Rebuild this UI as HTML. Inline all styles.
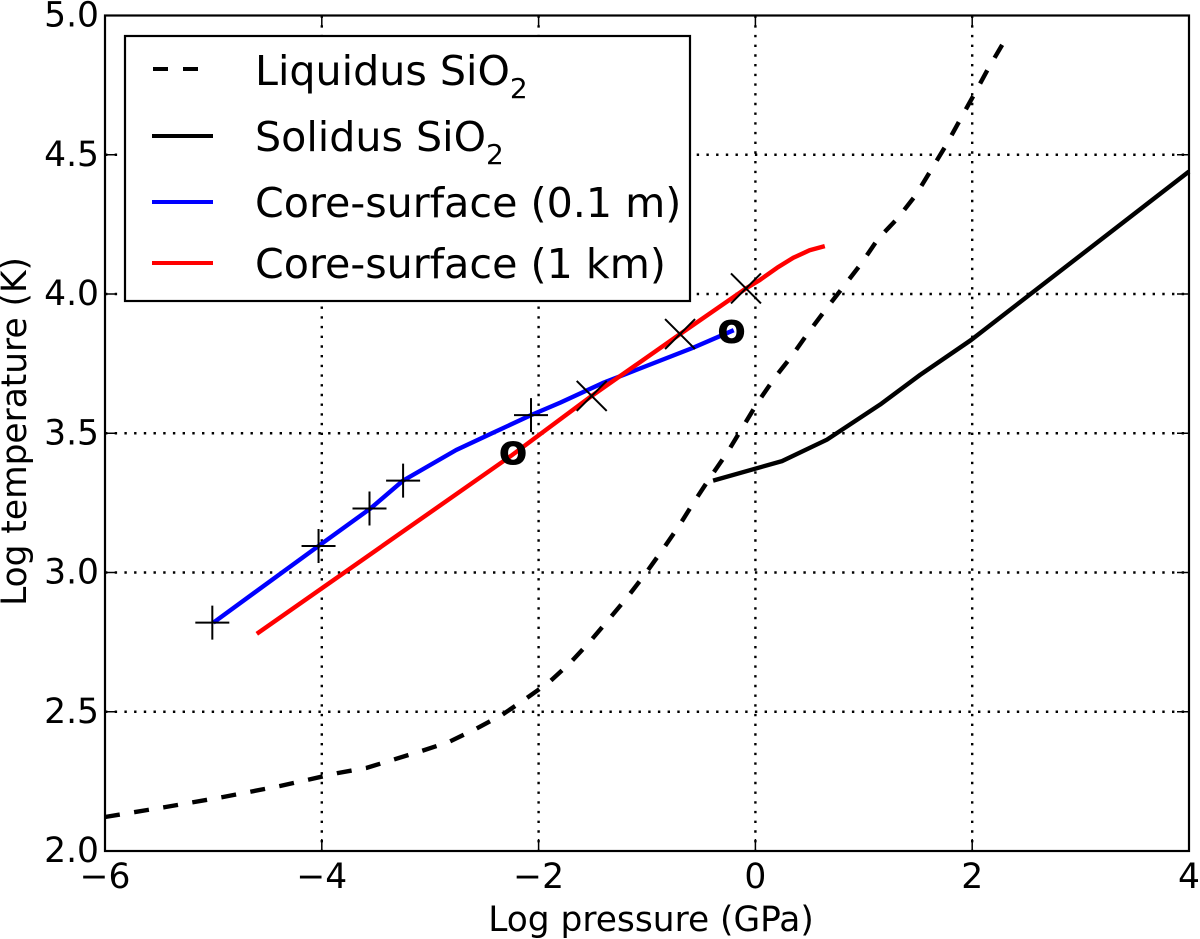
<!DOCTYPE html>
<html>
<head>
<meta charset="utf-8">
<title>Log temperature vs log pressure</title>
<style>
html,body{margin:0;padding:0;background:#fff;}
svg{display:block;}
text{font-family:"DejaVu Sans","Liberation Sans",sans-serif;fill:#000;}
</style>
</head>
<body>
<svg id="chart" width="1200" height="939" viewBox="0 0 1200 939" xmlns="http://www.w3.org/2000/svg">
<g id="grid"></g>
<g id="series"></g>
<g id="markers"></g>
<g id="axes"></g>
<g>
  <rect x="125" y="36" width="565" height="265" fill="#fff" stroke="#000" stroke-width="2.2"/>
  <line x1="153" x2="198" y1="69" y2="69" stroke="#000" stroke-width="4" stroke-dasharray="15 15"/>
  <line x1="152" x2="213" y1="136" y2="136" stroke="#000" stroke-width="4"/>
  <line x1="152" x2="213" y1="202" y2="202" stroke="#0000ff" stroke-width="4"/>
  <line x1="152" x2="213" y1="263" y2="263" stroke="#ff0000" stroke-width="4"/>
  <text x="255" y="85" font-size="41.2">Liquidus SiO<tspan font-size="28" dy="13">2</tspan></text>
  <text x="255" y="151" font-size="41.2">Solidus SiO<tspan font-size="28" dy="13">2</tspan></text>
  <text x="255" y="217" font-size="41.2">Core-surface (0.1 m)</text>
  <text x="255" y="278" font-size="41.2">Core-surface (1 km)</text>
</g>
<text x="651" y="931" font-size="34.4" text-anchor="middle">Log pressure (GPa)</text>
<text transform="translate(26,431.5) rotate(-90)" font-size="34.4" text-anchor="middle">Log temperature (K)</text>
<script>
const xTicks = [-6, -4, -2, 0, 2, 4];
const yTicks = [2.0, 2.5, 3.0, 3.5, 4.0, 4.5, 5.0];
const xTickLabels = ['\u22126', '\u22124', '\u22122', '0', '2', '4'];
const yTickLabels = ['2.0', '2.5', '3.0', '3.5', '4.0', '4.5', '5.0'];

const liquidusP = [-6, -5.44, -4.91, -4.39, -3.85, -3.59, -3.08, -2.83, -2.58, -2.34, -2.12, -1.90, -1.71, -1.53, -1.35, -1.18, -1.01, -0.86, -0.70, -0.58, -0.42, -0.26, -0.12, 0.02, 0.18, 0.34, 0.485, 0.66, 0.81, 0.98, 1.13, 1.315, 1.48, 1.62, 1.76, 1.887, 2.016, 2.146, 2.285];
const liquidusT = [2.122, 2.158, 2.194, 2.233, 2.28, 2.298, 2.359, 2.391, 2.438, 2.488, 2.546, 2.607, 2.675, 2.75, 2.833, 2.912, 2.998, 3.08, 3.17, 3.245, 3.34, 3.43, 3.52, 3.61, 3.70, 3.78, 3.86, 3.95, 4.025, 4.111, 4.197, 4.273, 4.355, 4.445, 4.535, 4.625, 4.715, 4.808, 4.90];
const solidusP = [-0.39, 0.245, 0.66, 1.15, 1.52, 1.99, 4];
const solidusT = [3.33, 3.40, 3.477, 3.603, 3.71, 3.835, 4.44];
const blueP = [-5.0, -4.03, -3.55, -3.25, -2.76, -2.43, -2.07, -1.8, -1.41, -0.58, -0.2];
const blueT = [2.82, 3.095, 3.23, 3.33, 3.44, 3.5, 3.565, 3.61, 3.68, 3.806, 3.87];
const redP = [-4.6, -2.25, -1.51, -0.695, -0.087, 0.04, 0.2, 0.35, 0.5, 0.64];
const redT = [2.78, 3.42, 3.634, 3.856, 4.02, 4.05, 4.094, 4.13, 4.157, 4.172];

const plusP = [-5.01, -4.03, -3.56, -3.25, -2.07];
const plusT = [2.82, 3.095, 3.23, 3.33, 3.565];
const crossP = [-1.51, -0.695, -0.087];
const crossT = [3.634, 3.856, 4.02];
const circleP = [-2.236, -0.22];
const circleT = [3.431, 3.867];
const circleGlyphs = ['o', 'o'];

const L = 105, R = 1189, T = 15.5, B = 851;
const xMin = -6, xMax = 4, yMin = 2, yMax = 5;
function sx(v) { return L + (v - xMin) / (xMax - xMin) * (R - L); }
function sy(v) { return B - (v - yMin) / (yMax - yMin) * (B - T); }

const NS = 'http://www.w3.org/2000/svg';
function make(tag, parentId, attrs) {
  const el = document.createElementNS(NS, tag);
  for (const k in attrs) el.setAttribute(k, attrs[k]);
  document.getElementById(parentId).appendChild(el);
  return el;
}
function pointsOf(xs, ys) {
  return xs.map(function (x, i) { return sx(x).toFixed(1) + ',' + sy(ys[i]).toFixed(1); }).join(' ');
}

xTicks.forEach(function (v, i) {
  if (i > 0 && i < xTicks.length - 1) {
    const g = make('line', 'grid', { x1: sx(v), x2: sx(v), y1: T, y2: B, stroke: '#000', 'stroke-width': 2.4, 'stroke-dasharray': '2.4 7.3' });
    
    
  }
  const t1 = make('line', 'axes', { x1: sx(v), x2: sx(v), y1: B, y2: B - 12, stroke: '#000', 'stroke-width': 1.5 });
  
  
  const t2 = make('line', 'axes', { x1: sx(v), x2: sx(v), y1: T, y2: T + 12, stroke: '#000', 'stroke-width': 1.5 });
  
  
  const lab = make('text', 'axes', { x: sx(v), y: 888, 'font-size': 34.5, 'text-anchor': 'middle' });
  lab.textContent = xTickLabels[i];
  
  
});

yTicks.forEach(function (v, i) {
  if (i > 0 && i < yTicks.length - 1) {
    const g = make('line', 'grid', { x1: L, x2: R, y1: sy(v), y2: sy(v), stroke: '#000', 'stroke-width': 2.4, 'stroke-dasharray': '2.4 7.3' });
    
    
  }
  const t1 = make('line', 'axes', { x1: L, x2: L + 12, y1: sy(v), y2: sy(v), stroke: '#000', 'stroke-width': 1.5 });
  
  
  const t2 = make('line', 'axes', { x1: R, x2: R - 12, y1: sy(v), y2: sy(v), stroke: '#000', 'stroke-width': 1.5 });
  
  
  const lab = make('text', 'axes', { x: 99, y: sy(v) + 11, 'font-size': 34.5, 'text-anchor': 'end' });
  lab.textContent = yTickLabels[i];
  
  
});

const frame = make('rect', 'axes', { x: L, y: T, width: R - L, height: B - T, fill: 'none', stroke: '#000', 'stroke-width': 2.2 });



const liquidusLine = make('polyline', 'series', { points: pointsOf(liquidusP, liquidusT), fill: 'none', stroke: '#000', 'stroke-width': 4.4, 'stroke-linejoin': 'round', 'stroke-dasharray': '15 14.5' });



const solidusLine = make('polyline', 'series', { points: pointsOf(solidusP, solidusT), fill: 'none', stroke: '#000', 'stroke-width': 4.4, 'stroke-linejoin': 'round' });



const blueLine = make('polyline', 'series', { points: pointsOf(blueP, blueT), fill: 'none', stroke: '#0000ff', 'stroke-width': 4.4, 'stroke-linejoin': 'round' });



const redLine = make('polyline', 'series', { points: pointsOf(redP, redT), fill: 'none', stroke: '#ff0000', 'stroke-width': 4.4, 'stroke-linejoin': 'round' });



const armPlus = 17, armCross = 15;
plusP.forEach(function (p, i) {
  const cx = sx(p), cy = sy(plusT[i]);
  const m = make('path', 'markers', { d: 'M' + (cx - armPlus) + ' ' + cy + 'H' + (cx + armPlus) + 'M' + cx + ' ' + (cy - armPlus) + 'V' + (cy + armPlus), stroke: '#000', 'stroke-width': 2, fill: 'none' });
  
  
});
crossP.forEach(function (p, i) {
  const cx = sx(p), cy = sy(crossT[i]);
  const m = make('path', 'markers', { d: 'M' + (cx - armCross) + ' ' + (cy - armCross) + 'L' + (cx + armCross) + ' ' + (cy + armCross) + 'M' + (cx - armCross) + ' ' + (cy + armCross) + 'L' + (cx + armCross) + ' ' + (cy - armCross), stroke: '#000', 'stroke-width': 2, fill: 'none' });
  
  
});
circleP.forEach(function (p, i) {
  const m = make('text', 'markers', { x: sx(p), y: sy(circleT[i]) + 12, 'font-size': 42, 'font-weight': 'bold', 'text-anchor': 'middle' });
  m.textContent = circleGlyphs[i];
  
  
});
</script>
</svg>
</body>
</html>
